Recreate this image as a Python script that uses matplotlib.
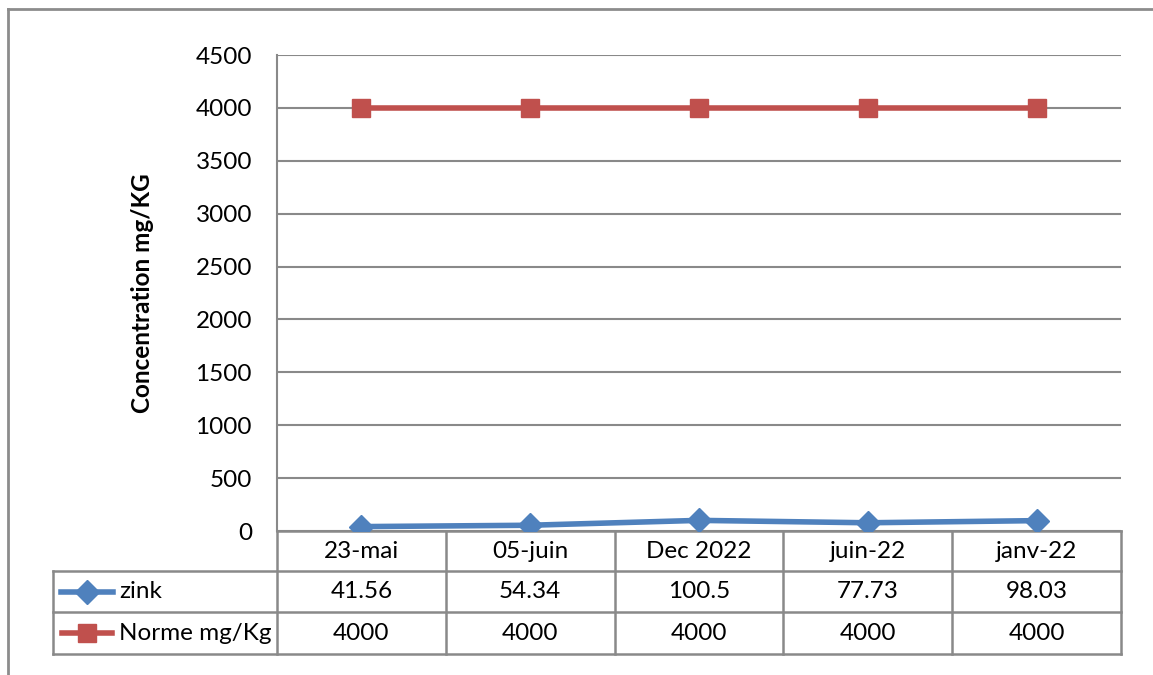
import matplotlib.pyplot as plt

plt.rcParams['font.family'] = ['Lato', 'DejaVu Sans']

dates = ['23-mai', '05-juin', 'Dec 2022', 'juin-22', 'janv-22']
zink = [41.56, 54.34, 100.5, 77.73, 98.03]
norme = [4000, 4000, 4000, 4000, 4000]
zink_txt = ['41.56', '54.34', '100.5', '77.73', '98.03']
norme_txt = ['4000', '4000', '4000', '4000', '4000']

W, H = 1153, 675
blue = '#4F81BD'
red = '#C0504D'
grid = '#898989'
fs = 17.5

fig = plt.figure(figsize=(W / 100, H / 100), dpi=100)

# plot area, in pixels: x 277..1121, y 55..531
x0, x1, y0, y1 = 277, 1121, 55, 531
ax = fig.add_axes([x0 / W, 1 - y1 / H, (x1 - x0) / W, (y1 - y0) / H])
xs = list(range(len(dates)))
ax.plot(xs, norme, color=red, lw=4, marker='s', ms=13, zorder=3)
ax.plot(xs, zink, color=blue, lw=4, marker='D', ms=12, zorder=3)
ax.set_xlim(-0.5, len(dates) - 0.5)
ax.set_ylim(0, 4500)
ax.set_yticks(range(0, 4501, 500))
ax.set_xticks([])
ax.grid(axis='y', color=grid, lw=1.5)
ax.set_axisbelow(True)
for s in ['top', 'right', 'bottom']:
    ax.spines[s].set_visible(False)
ax.spines['left'].set_color(grid)
ax.spines['left'].set_linewidth(1.5)
ax.tick_params(axis='y', length=0, pad=18, labelsize=fs)

fig.text(142 / W, 1 - 293 / H, 'Concentration mg/KG', rotation=90,
         ha='center', va='center', fontsize=fs, fontweight='bold')

# data table below the plot, drawn in pixel coordinates
tab = fig.add_axes([0, 0, 1, 1], zorder=-1)
tab.set_xlim(0, W)
tab.set_ylim(H, 0)
tab.axis('off')

col_w = (x1 - x0) / len(dates)
rows = [531, 571, 612, 654]
lw = 1.8
tab.plot([x0, x1], [rows[0], rows[0]], color=grid, lw=lw)
for r in rows[1:]:
    tab.plot([53, x1], [r, r], color=grid, lw=lw)
for i in range(len(dates) + 1):
    cx = x0 + i * col_w
    tab.plot([cx, cx], [rows[0], rows[-1]], color=grid, lw=lw)
tab.plot([53, 53], [rows[1], rows[-1]], color=grid, lw=lw)

for i in range(len(dates)):
    cx = x0 + (i + 0.5) * col_w
    tab.text(cx, (rows[0] + rows[1]) / 2, dates[i], ha='center', va='center', fontsize=fs)
    tab.text(cx, (rows[1] + rows[2]) / 2, zink_txt[i], ha='center', va='center', fontsize=fs)
    tab.text(cx, (rows[2] + rows[3]) / 2, norme_txt[i], ha='center', va='center', fontsize=fs)

# legend keys inside the table
ym = (rows[1] + rows[2]) / 2
tab.plot([61, 113], [ym, ym], color=blue, lw=4)
tab.plot([87], [ym], color=blue, marker='D', ms=12)
tab.text(119, ym, 'zink', ha='left', va='center', fontsize=fs)
ym = (rows[2] + rows[3]) / 2
tab.plot([62, 112], [ym, ym], color=red, lw=4)
tab.plot([87], [ym], color=red, marker='s', ms=13)
tab.text(119, ym, 'Norme mg/Kg', ha='left', va='center', fontsize=fs)

# outer chart frame
tab.plot([8, W], [9, 9], color='#8c8c8c', lw=2)
tab.plot([8, 8], [9, H], color='#8c8c8c', lw=2)

fig.savefig('out.png', dpi=100)
